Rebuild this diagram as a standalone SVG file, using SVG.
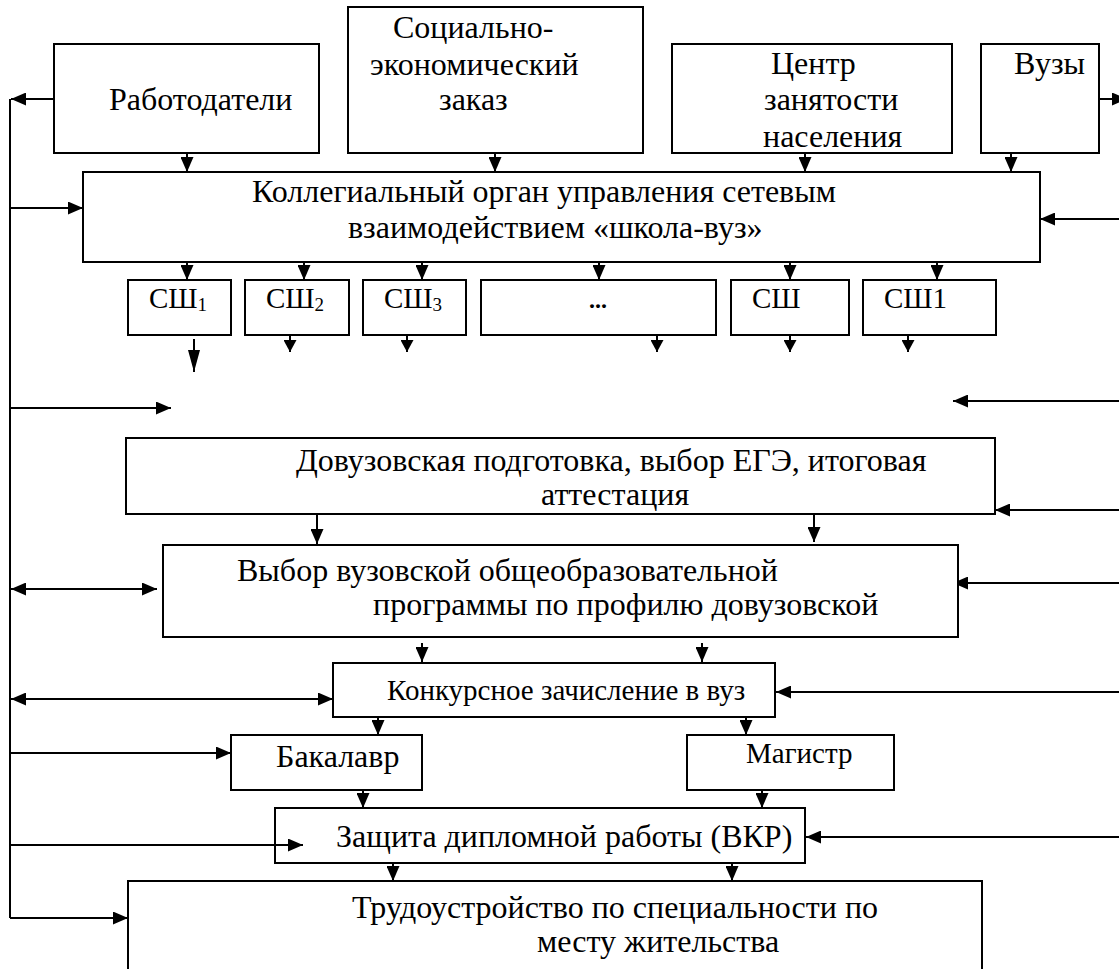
<svg xmlns="http://www.w3.org/2000/svg" width="1119" height="969" viewBox="0 0 1119 969">
<defs>
<marker id="ah" markerUnits="userSpaceOnUse" markerWidth="15" markerHeight="13" refX="15" refY="6.5" orient="auto-start-reverse"><path d="M0,0 L15,6.5 L0,13 z" fill="#000"/></marker>
<marker id="ahs" markerUnits="userSpaceOnUse" markerWidth="12" markerHeight="13" refX="12" refY="6.5" orient="auto"><path d="M0,0 L12,6.5 L0,13 z" fill="#000"/></marker>
<marker id="ahb" markerUnits="userSpaceOnUse" markerWidth="22" markerHeight="12" refX="22" refY="6" orient="auto"><path d="M0,0 L22,6 L0,12 z" fill="#000"/></marker>
<style>
.box{fill:#fff;stroke:#000;stroke-width:2}
.ln{stroke:#000;stroke-width:2;fill:none}
.a{stroke:#000;stroke-width:2;fill:none;marker-end:url(#ah)}
.as{stroke:#000;stroke-width:2;fill:none;marker-end:url(#ahs)}
.d{stroke:#000;stroke-width:2;fill:none;marker-end:url(#ah);marker-start:url(#ah)}
.s{font-size:29px}
.sub{font-size:19px}
</style>
</defs>
<rect width="1119" height="969" fill="#fff"/>
<g id="connectors">
<line class="ln" x1="10" y1="99" x2="10" y2="918"/>
<line class="a" x1="54" y1="99" x2="11" y2="99"/>
<line class="a" x1="1099" y1="99" x2="1127" y2="99"/>
<line class="a" x1="187" y1="153" x2="187" y2="172"/>
<line class="a" x1="495" y1="153" x2="495" y2="172"/>
<line class="a" x1="805" y1="153" x2="805" y2="172"/>
<line class="a" x1="1011" y1="153" x2="1011" y2="172"/>
<line class="a" x1="10" y1="208" x2="83" y2="208"/>
<line class="a" x1="1119" y1="219" x2="1040" y2="219"/>
<line class="a" x1="187" y1="262" x2="187" y2="280"/>
<line class="a" x1="304" y1="262" x2="304" y2="280"/>
<line class="a" x1="422" y1="262" x2="422" y2="280"/>
<line class="a" x1="599" y1="262" x2="599" y2="280"/>
<line class="a" x1="790" y1="262" x2="790" y2="280"/>
<line class="a" x1="937" y1="262" x2="937" y2="280"/>
<line class="ln" x1="194" y1="339" x2="194" y2="372" style="marker-end:url(#ahb)"/>
<line class="as" x1="290" y1="335" x2="290" y2="352"/>
<line class="as" x1="407" y1="335" x2="407" y2="352"/>
<line class="as" x1="657" y1="335" x2="657" y2="352"/>
<line class="as" x1="790" y1="335" x2="790" y2="352"/>
<line class="as" x1="908" y1="335" x2="908" y2="352"/>
<line class="a" x1="10" y1="408" x2="171" y2="408"/>
<line class="a" x1="1119" y1="401" x2="953" y2="401"/>
<line class="a" x1="1119" y1="510" x2="995" y2="510"/>
<line class="a" x1="317" y1="514" x2="317" y2="544"/>
<line class="a" x1="814" y1="514" x2="814" y2="542"/>
<line class="d" x1="11" y1="589" x2="157" y2="589"/>
<line class="a" x1="1119" y1="583" x2="953" y2="583"/>
<line class="a" x1="422" y1="643" x2="422" y2="662"/>
<line class="a" x1="702" y1="643" x2="702" y2="662"/>
<line class="d" x1="11" y1="699" x2="333" y2="699"/>
<line class="a" x1="1119" y1="692" x2="776" y2="692"/>
<line class="a" x1="378" y1="717" x2="378" y2="735"/>
<line class="a" x1="746" y1="717" x2="746" y2="735"/>
<line class="a" x1="10" y1="753" x2="231" y2="753"/>
<line class="a" x1="363" y1="790" x2="363" y2="808"/>
<line class="a" x1="762" y1="790" x2="762" y2="808"/>
<line class="a" x1="1119" y1="837" x2="806" y2="837"/>
<line class="a" x1="393" y1="863" x2="393" y2="881"/>
<line class="a" x1="732" y1="863" x2="732" y2="881"/>
<line class="a" x1="10" y1="918" x2="128" y2="918"/>
</g>
<g font-family="'Liberation Serif', 'DejaVu Serif', serif" font-size="32" fill="#000">
<g id="rabotodateli"><rect class="box" x="54" y="44" width="265" height="109"/><text x="109" y="110">Работодатели</text></g>
<g id="zakaz"><rect class="box" x="348" y="7" width="295" height="146"/><text x="393" y="38">Социально-</text><text x="370" y="75">экономический</text><text x="439" y="110">заказ</text></g>
<g id="czn"><rect class="box" x="672" y="44" width="280" height="109"/><text x="771" y="74">Центр</text><text x="764" y="110">занятости</text><text x="763" y="147">населения</text></g>
<g id="vuzy"><rect class="box" x="981" y="44" width="118" height="109"/><text x="1014" y="74">Вузы</text></g>
<g id="kollegialny"><rect class="box" x="83" y="172" width="957" height="90"/><text x="252" y="202">Коллегиальный орган управления сетевым</text><text x="348" y="238">взаимодействием «школа-вуз»</text></g>
<g id="sh1"><rect class="box" x="128" y="280" width="103" height="55"/><text class="s" x="149" y="308">СШ<tspan class="sub" dy="3">1</tspan></text></g>
<g id="sh2"><rect class="box" x="245" y="280" width="104" height="55"/><text class="s" x="266" y="308">СШ<tspan class="sub" dy="3">2</tspan></text></g>
<g id="sh3"><rect class="box" x="363" y="280" width="103" height="55"/><text class="s" x="384" y="308">СШ<tspan class="sub" dy="3">3</tspan></text></g>
<g id="shdots"><rect class="box" x="481" y="280" width="235" height="55"/><text x="589" y="308" font-weight="bold" font-size="24">...</text></g>
<g id="shn"><rect class="box" x="731" y="280" width="118" height="55"/><text class="s" x="752" y="308">СШ</text></g>
<g id="shn1"><rect class="box" x="863" y="280" width="133" height="55"/><text class="s" x="884" y="308">СШ1</text></g>
<g id="dovuz"><rect class="box" x="126" y="438" width="869" height="76"/><text x="296" y="471">Довузовская подготовка, выбор ЕГЭ, итоговая</text><text x="541" y="505">аттестация</text></g>
<g id="vybor"><rect class="box" x="163" y="545" width="795" height="92"/><text x="237" y="581">Выбор вузовской общеобразовательной</text><text x="373" y="615">программы по профилю довузовской</text></g>
<g id="konkurs"><rect class="box" x="333" y="663" width="442" height="54"/><text class="s" x="387" y="700">Конкурсное зачисление в вуз</text></g>
<g id="bakalavr"><rect class="box" x="231" y="735" width="191" height="55"/><text x="276" y="767">Бакалавр</text></g>
<g id="magistr"><rect class="box" x="687" y="735" width="207" height="55"/><text class="s" x="746" y="763">Магистр</text></g>
<g id="zashita"><rect class="box" x="275" y="808" width="530" height="55"/><text x="336" y="847">Защита дипломной работы (ВКР)</text></g>
<g id="trud"><path class="ln" d="M128,969 V881 H982 V969" style="fill:#fff"/><text x="352" y="918">Трудоустройство по специальности по</text><text x="537" y="952">месту жительства</text></g>
</g>
<line class="a" x1="10" y1="845" x2="303" y2="845"/>
</svg>
